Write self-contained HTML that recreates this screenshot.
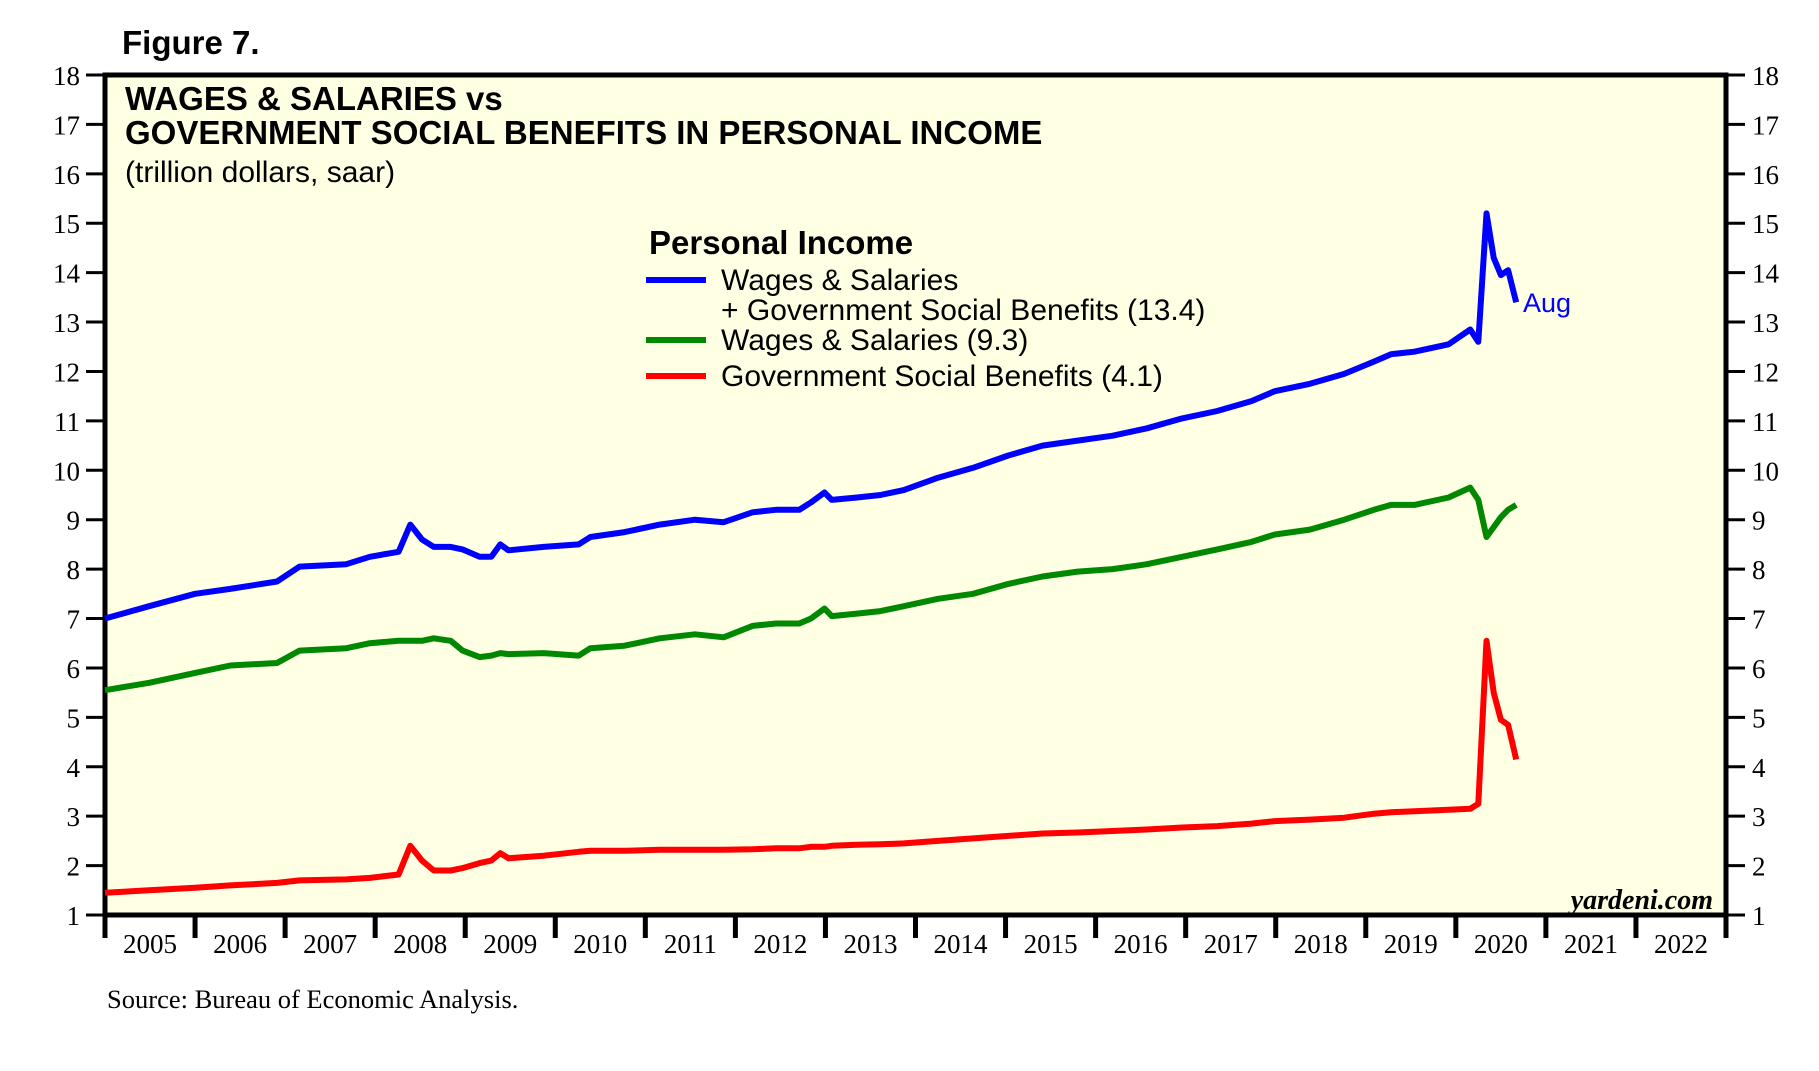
<!DOCTYPE html>
<html><head><meta charset="utf-8"><style>
body{margin:0;background:#fff;}
svg{display:block;}
</style></head><body>
<svg id="chart" width="1819" height="1071" viewBox="0 0 1819 1071" xmlns="http://www.w3.org/2000/svg">
<text x="122" y="54" font-family="Liberation Sans, sans-serif" font-weight="bold" font-size="33">Figure 7.</text>
<rect x="105" y="75" width="1621" height="840" fill="#ffffe4" stroke="#000" stroke-width="5"/>
<g id="axes"></g>
<g id="lines"></g>
<text x="125" y="110" font-family="Liberation Sans, sans-serif" font-weight="bold" font-size="33">WAGES &amp; SALARIES vs</text>
<text x="125" y="144" font-family="Liberation Sans, sans-serif" font-weight="bold" font-size="33">GOVERNMENT SOCIAL BENEFITS IN PERSONAL INCOME</text>
<text x="125" y="182" font-family="Liberation Sans, sans-serif" font-size="30">(trillion dollars, saar)</text>
<g font-family="Liberation Sans, sans-serif" font-size="30">
<text x="649" y="254" font-weight="bold" font-size="33">Personal Income</text>
<line x1="646" y1="280" x2="706" y2="280" stroke="#0000ff" stroke-width="6"/>
<text x="721" y="290">Wages &amp; Salaries</text>
<text x="721" y="320">+ Government Social Benefits (13.4)</text>
<line x1="646" y1="340" x2="706" y2="340" stroke="#008800" stroke-width="6"/>
<text x="721" y="350">Wages &amp; Salaries (9.3)</text>
<line x1="646" y1="376" x2="706" y2="376" stroke="#ff0000" stroke-width="6"/>
<text x="721" y="386">Government Social Benefits (4.1)</text>
</g>
<text x="1523" y="312" font-family="Liberation Sans, sans-serif" font-size="27" fill="#0000ff">Aug</text>
<text x="1713" y="909" text-anchor="end" font-family="Liberation Serif, serif" font-style="italic" font-weight="bold" font-size="28">yardeni.com</text>
<text x="107" y="1008" font-family="Liberation Serif, serif" font-size="26.5">Source: Bureau of Economic Analysis.</text>
</svg>
<script>
const dates=[2005.00,2005.49,2006.00,2006.39,2006.91,2007.16,2007.68,2007.94,2008.26,2008.39,2008.52,2008.65,2008.84,2008.97,2009.16,2009.29,2009.39,2009.48,2009.87,2010.26,2010.39,2010.77,2011.16,2011.55,2011.87,2012.19,2012.45,2012.71,2012.84,2012.99,2013.07,2013.35,2013.61,2013.87,2014.25,2014.64,2015.03,2015.41,2015.80,2016.19,2016.57,2016.96,2017.35,2017.73,2017.99,2018.38,2018.76,2019.09,2019.28,2019.54,2019.92,2020.16,2020.25,2020.34,2020.42,2020.50,2020.58,2020.67];
const totalVals=[7.0,7.25,7.5,7.6,7.75,8.05,8.1,8.25,8.35,8.9,8.6,8.45,8.45,8.4,8.25,8.25,8.5,8.38,8.45,8.5,8.65,8.75,8.9,9.0,8.95,9.15,9.2,9.2,9.35,9.55,9.4,9.45,9.5,9.6,9.85,10.05,10.3,10.5,10.6,10.7,10.85,11.05,11.2,11.4,11.6,11.75,11.95,12.2,12.35,12.4,12.55,12.85,12.6,15.2,14.3,13.95,14.05,13.4];
const wagesVals=[5.55,5.7,5.9,6.05,6.1,6.35,6.4,6.5,6.55,6.55,6.55,6.6,6.55,6.35,6.22,6.25,6.3,6.28,6.3,6.25,6.4,6.45,6.6,6.68,6.62,6.85,6.9,6.9,7.0,7.2,7.05,7.1,7.15,7.25,7.4,7.5,7.7,7.85,7.95,8.0,8.1,8.25,8.4,8.55,8.7,8.8,9.0,9.2,9.3,9.3,9.45,9.65,9.4,8.65,8.85,9.05,9.2,9.3];
const benefitsVals=[1.45,1.5,1.55,1.6,1.65,1.7,1.72,1.75,1.82,2.4,2.1,1.9,1.9,1.95,2.05,2.1,2.25,2.15,2.2,2.28,2.3,2.3,2.32,2.32,2.32,2.33,2.35,2.35,2.38,2.38,2.4,2.42,2.43,2.45,2.5,2.55,2.6,2.65,2.67,2.7,2.73,2.77,2.8,2.85,2.9,2.93,2.97,3.05,3.08,3.1,3.13,3.15,3.25,6.55,5.5,4.95,4.85,4.15];
const yTicks=[1,2,3,4,5,6,7,8,9,10,11,12,13,14,15,16,17,18];
const yearLabels=[2005,2006,2007,2008,2009,2010,2011,2012,2013,2014,2015,2016,2017,2018,2019,2020,2021,2022];

const NS='http://www.w3.org/2000/svg';
const L=105,R=1726,T=75,B=915;
function xs(v){return L+(v-2005)*(R-L)/18;}
function ys(v){return B-(v-1)*(B-T)/17;}
function mk(tag,attrs,parent){const e=document.createElementNS(NS,tag);for(const k in attrs)e.setAttribute(k,attrs[k]);parent.appendChild(e);return e;}
const axes=document.getElementById('axes');
yTicks.forEach(v=>{
  const y=ys(v);
  const t1=mk('line',{x1:86,x2:105,y1:y,y2:y,stroke:'#000','stroke-width':3},axes);
  
  
  const t2=mk('line',{x1:1726,x2:1745,y1:y,y2:y,stroke:'#000','stroke-width':3},axes);
  
  
  const l1=mk('text',{x:80,y:y+10,'text-anchor':'end','font-family':'Liberation Serif, serif','font-size':27},axes);
  l1.textContent=v;
  
  
  const l2=mk('text',{x:1752,y:y+10,'font-family':'Liberation Serif, serif','font-size':27},axes);
  l2.textContent=v;
  
  
});
for(let i=0;i<=yearLabels.length;i++){
  const x=xs(2005+i);
  const t=mk('line',{x1:x,x2:x,y1:915,y2:938,stroke:'#000','stroke-width':5},axes);
  
  
}
yearLabels.forEach(yr=>{
  const l=mk('text',{x:xs(yr+0.5),y:953,'text-anchor':'middle','font-family':'Liberation Serif, serif','font-size':27},axes);
  l.textContent=yr;
  
  
});
const lines=document.getElementById('lines');
function series(vals,color,name){
  const d=vals.map((v,i)=>(i?'L':'M')+xs(dates[i]).toFixed(1)+' '+ys(v).toFixed(1)).join(' ');
  const p=mk('path',{d:d,fill:'none',stroke:color,'stroke-width':6,'stroke-linejoin':'round'},lines);
  
  
}
series(totalVals,'#0000ff','line-total-income');
series(wagesVals,'#008800','line-wages-salaries');
series(benefitsVals,'#ff0000','line-social-benefits');
</script>
</body></html>
